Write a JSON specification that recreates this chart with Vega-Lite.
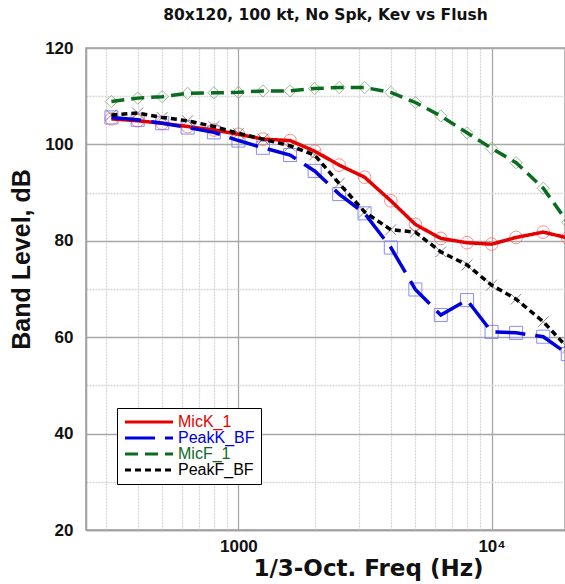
{
  "$schema": "https://vega.github.io/schema/vega-lite/v6.json",
  "autosize": {"type": "none"},
  "padding": {"left": 86, "top": 48, "right": 0, "bottom": 54},
  "width": 479,
  "height": 482,
  "background": "white",
  "title": {"text": "80x120, 100 kt, No Spk, Kev vs Flush", "font": "DejaVu Sans", "fontSize": 15.5, "fontWeight": "bold", "anchor": "middle", "frame": "group", "offset": 16, "color": "#111"},
  "config": {
    "view": {"stroke": "#a0a0a0", "strokeWidth": 1.5},
    "axis": {"labelFont": "Liberation Sans", "labelFontWeight": "bold", "labelFontSize": 17, "labelColor": "#111", "titleFont": "Liberation Sans", "titleFontWeight": "bold", "titleColor": "#111", "domainColor": "#a0a0a0", "domainWidth": 1.5, "ticks": false, "labelOverlap": false, "labelFlush": false},
    "legend": {"orient": "none", "legendX": 31, "legendY": 360, "fillColor": "white", "strokeColor": "#000000", "padding": 6, "symbolType": "M-4,0L4,0", "symbolSize": 144, "symbolOffset": 18, "symbolStrokeWidth": 3, "labelFont": "Liberation Sans", "labelFontSize": 16, "labelOffset": 21, "rowPadding": 0}
  },
  "datasets": {
    "bands": [
      {"f": 315, "s": "MicK_1", "v": 105.3}, {"f": 400, "s": "MicK_1", "v": 104.9}, {"f": 500, "s": "MicK_1", "v": 104.4}, {"f": 630, "s": "MicK_1", "v": 103.7}, {"f": 800, "s": "MicK_1", "v": 103.0}, {"f": 1000, "s": "MicK_1", "v": 102.1}, {"f": 1250, "s": "MicK_1", "v": 101.1}, {"f": 1600, "s": "MicK_1", "v": 100.8}, {"f": 2000, "s": "MicK_1", "v": 98.6}, {"f": 2500, "s": "MicK_1", "v": 95.7}, {"f": 3150, "s": "MicK_1", "v": 93.2}, {"f": 4000, "s": "MicK_1", "v": 88.3}, {"f": 5000, "s": "MicK_1", "v": 83.4}, {"f": 6300, "s": "MicK_1", "v": 80.5}, {"f": 8000, "s": "MicK_1", "v": 79.6}, {"f": 10000, "s": "MicK_1", "v": 79.3}, {"f": 12500, "s": "MicK_1", "v": 80.7}, {"f": 16000, "s": "MicK_1", "v": 81.8}, {"f": 20000, "s": "MicK_1", "v": 80.6},
      {"f": 315, "s": "PeakK_BF", "v": 105.6}, {"f": 400, "s": "PeakK_BF", "v": 105.1}, {"f": 500, "s": "PeakK_BF", "v": 104.4}, {"f": 630, "s": "PeakK_BF", "v": 103.5}, {"f": 800, "s": "PeakK_BF", "v": 102.5}, {"f": 1000, "s": "PeakK_BF", "v": 100.8}, {"f": 1250, "s": "PeakK_BF", "v": 99.3}, {"f": 1600, "s": "PeakK_BF", "v": 97.8}, {"f": 2000, "s": "PeakK_BF", "v": 94.5}, {"f": 2500, "s": "PeakK_BF", "v": 89.7}, {"f": 3150, "s": "PeakK_BF", "v": 85.7}, {"f": 4000, "s": "PeakK_BF", "v": 78.6}, {"f": 5000, "s": "PeakK_BF", "v": 69.9}, {"f": 6300, "s": "PeakK_BF", "v": 64.6}, {"f": 8000, "s": "PeakK_BF", "v": 67.7}, {"f": 10000, "s": "PeakK_BF", "v": 61.1}, {"f": 12500, "s": "PeakK_BF", "v": 60.9}, {"f": 16000, "s": "PeakK_BF", "v": 60.1}, {"f": 20000, "s": "PeakK_BF", "v": 56.5},
      {"f": 315, "s": "MicF_1", "v": 108.9}, {"f": 400, "s": "MicF_1", "v": 109.6}, {"f": 500, "s": "MicF_1", "v": 109.9}, {"f": 630, "s": "MicF_1", "v": 110.6}, {"f": 800, "s": "MicF_1", "v": 110.7}, {"f": 1000, "s": "MicF_1", "v": 110.8}, {"f": 1250, "s": "MicF_1", "v": 111.1}, {"f": 1600, "s": "MicF_1", "v": 111.1}, {"f": 2000, "s": "MicF_1", "v": 111.6}, {"f": 2500, "s": "MicF_1", "v": 111.8}, {"f": 3150, "s": "MicF_1", "v": 111.8}, {"f": 4000, "s": "MicF_1", "v": 110.8}, {"f": 5000, "s": "MicF_1", "v": 108.7}, {"f": 6300, "s": "MicF_1", "v": 105.9}, {"f": 8000, "s": "MicF_1", "v": 102.4}, {"f": 10000, "s": "MicF_1", "v": 99.2}, {"f": 12500, "s": "MicF_1", "v": 96.2}, {"f": 16000, "s": "MicF_1", "v": 90.9}, {"f": 20000, "s": "MicF_1", "v": 83.8},
      {"f": 315, "s": "PeakF_BF", "v": 106.1}, {"f": 400, "s": "PeakF_BF", "v": 106.5}, {"f": 500, "s": "PeakF_BF", "v": 105.6}, {"f": 630, "s": "PeakF_BF", "v": 104.9}, {"f": 800, "s": "PeakF_BF", "v": 103.7}, {"f": 1000, "s": "PeakF_BF", "v": 102.3}, {"f": 1250, "s": "PeakF_BF", "v": 101.1}, {"f": 1600, "s": "PeakF_BF", "v": 99.7}, {"f": 2000, "s": "PeakF_BF", "v": 97.8}, {"f": 2500, "s": "PeakF_BF", "v": 91.9}, {"f": 3150, "s": "PeakF_BF", "v": 86.0}, {"f": 4000, "s": "PeakF_BF", "v": 82.3}, {"f": 5000, "s": "PeakF_BF", "v": 81.8}, {"f": 6300, "s": "PeakF_BF", "v": 77.7}, {"f": 8000, "s": "PeakF_BF", "v": 75.0}, {"f": 10000, "s": "PeakF_BF", "v": 70.8}, {"f": 12500, "s": "PeakF_BF", "v": 67.9}, {"f": 16000, "s": "PeakF_BF", "v": 63.2}, {"f": 20000, "s": "PeakF_BF", "v": 57.8}
    ]
  },
  "data": {"name": "bands"},
  "encoding": {
    "x": {"field": "f", "type": "quantitative", "scale": {"type": "log", "domain": [250, 19500], "nice": false},
      "axis": {"title": "1/3-Oct. Freq (Hz)", "titleFont": "DejaVu Sans", "titleFontSize": 23, "titleX": 282, "titleY": 45, "titleBaseline": "alphabetic", "titleAlign": "center", "titleAnchor": null,
        "values": [300, 400, 500, 600, 700, 800, 900, 1000, 2000, 3000, 4000, 5000, 6000, 7000, 8000, 9000, 10000],
        "labelExpr": "datum.value == 1000 ? '1000' : (datum.value == 10000 ? '10⁴' : '')",
        "labelPadding": 8,
        "gridColor": {"condition": {"test": "datum.value == 1000 || datum.value == 10000", "value": "#a8a8a8"}, "value": "#d6d6d6"},
        "gridDash": {"condition": {"test": "datum.value == 1000 || datum.value == 10000", "value": []}, "value": [2, 1]},
        "gridWidth": 1.3}},
    "y": {"field": "v", "type": "quantitative", "scale": {"domain": [20, 120], "nice": false},
      "axis": {"title": "Band Level, dB", "titleFontSize": 25, "titleX": -57, "titleY": 211, "titleBaseline": "alphabetic", "titleAlign": "center", "titleAnchor": null, "titleAngle": -90,
        "values": [20, 30, 40, 50, 60, 70, 80, 90, 100, 110, 120],
        "labelExpr": "datum.value % 20 == 0 ? datum.label : ''",
        "labelPadding": 13,
        "gridColor": {"condition": {"test": "datum.value % 20 == 0", "value": "#a8a8a8"}, "value": "#d6d6d6"},
        "gridDash": {"condition": {"test": "datum.value % 20 == 0", "value": []}, "value": [2, 1]},
        "gridWidth": 1.3}}
  },
  "layer": [
    {"transform": [{"filter": "datum.s == 'MicK_1'"}], "mark": {"type": "point", "shape": "circle", "filled": false, "stroke": "#ff7070", "strokeWidth": 1, "opacity": 0.8, "size": 160, "clip": true}},
    {"transform": [{"filter": "datum.s == 'PeakK_BF'"}], "mark": {"type": "point", "shape": "square", "filled": false, "stroke": "#7070ff", "strokeWidth": 1, "opacity": 0.8, "size": 170, "clip": true}},
    {"transform": [{"filter": "datum.s == 'MicF_1'"}], "mark": {"type": "point", "shape": "diamond", "filled": false, "stroke": "#80b080", "strokeWidth": 1, "opacity": 0.8, "size": 150, "clip": true}},
    {"transform": [{"filter": "datum.s == 'PeakF_BF'"}], "mark": {"type": "point", "shape": "M-1,-1L1,1M-1,1L1,-1", "filled": false, "stroke": "#707070", "strokeWidth": 1, "opacity": 0.8, "size": 120, "clip": true}},
    {
      "mark": {"type": "line", "interpolate": "linear", "strokeWidth": 3.5, "clip": true},
      "encoding": {
        "color": {"field": "s", "type": "nominal", "scale": {"domain": ["MicK_1", "PeakK_BF", "MicF_1", "PeakF_BF"], "range": ["#e60000", "#0000dd", "#0b6b1e", "#000000"]},
          "legend": {"title": null,
            "encode": {"labels": {"update": {"fill": {"signal": "datum.value == 'MicK_1' ? '#e60000' : datum.value == 'PeakK_BF' ? '#0000dd' : datum.value == 'MicF_1' ? '#0b6b1e' : '#000000'"}}}}}},
        "strokeDash": {"field": "s", "type": "nominal", "scale": {"domain": ["MicK_1", "PeakK_BF", "MicF_1", "PeakF_BF"], "range": [[1, 0], [30, 10], [13, 7], [6, 4]]},
          "legend": {"title": null}}
      }
    }
  ]
}
